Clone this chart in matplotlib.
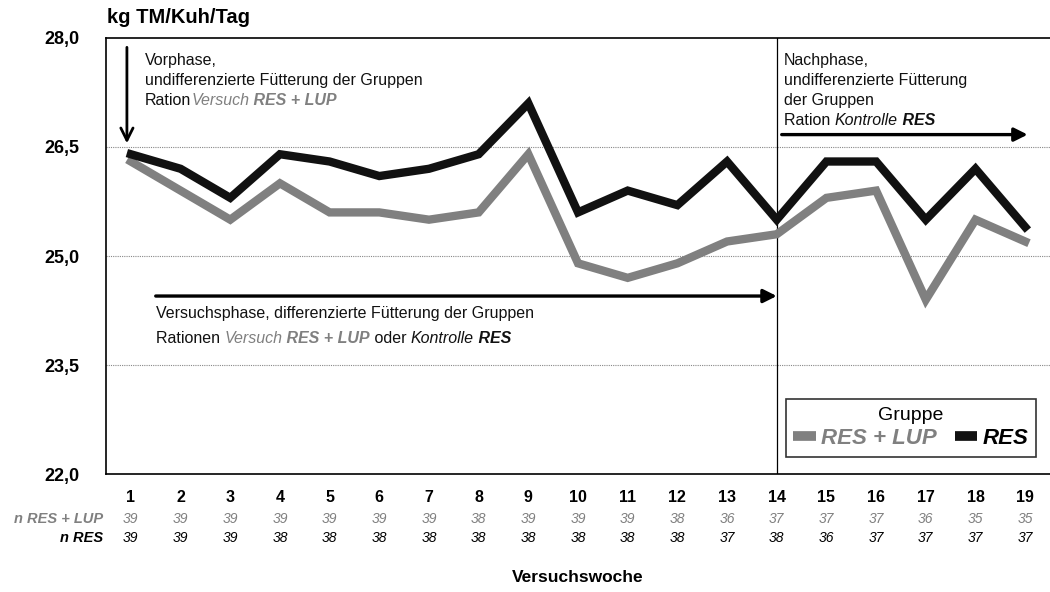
import matplotlib
matplotlib.use("Agg")
import matplotlib.pyplot as plt
from matplotlib.lines import Line2D

plt.rcParams['font.family'] = ['Liberation Sans', 'DejaVu Sans']

# Data
weeks = list(range(1, 20))
res_lup = [26.3, 25.9, 25.5, 26.0, 25.6, 25.6, 25.5, 25.6, 26.4, 24.9,
           24.7, 24.9, 25.2, 25.3, 25.8, 25.9, 24.4, 25.5, 25.2]
res = [26.4, 26.2, 25.8, 26.4, 26.3, 26.1, 26.2, 26.4, 27.1, 25.6,
       25.9, 25.7, 26.3, 25.5, 26.3, 26.3, 25.5, 26.2, 25.4]
n_res_lup = [39, 39, 39, 39, 39, 39, 39, 38, 39, 39, 39, 38, 36, 37, 37, 37, 36, 35, 35]
n_res = [39, 39, 39, 38, 38, 38, 38, 38, 38, 38, 38, 38, 37, 38, 36, 37, 37, 37, 37]
y_ticks = [22.0, 23.5, 25.0, 26.5, 28.0]
y_labels = ['22,0', '23,5', '25,0', '26,5', '28,0']

GRAY = '#808080'
BLACK = '#111111'


def rich(ax, x, y, parts, **kw):
    # draw text pieces side by side on one line, each with its own style
    prev = ax.text(x, y, parts[0][0], va='center', ha='left', **parts[0][1], **kw)
    for txt, style in parts[1:]:
        prev = ax.annotate(txt, xy=(1, 0.5), xycoords=prev, va='center', ha='left',
                           **style, **kw)
    return prev


fig = plt.figure(figsize=(10.5, 5.92), dpi=100)
ax = fig.add_axes([0.101, 0.199, 0.899, 0.737])

ax.plot(weeks, res_lup, color=GRAY, lw=6, solid_joinstyle='miter', zorder=3)
ax.plot(weeks, res, color=BLACK, lw=6, solid_joinstyle='miter', zorder=4)

ax.set_xlim(0.5, 19.5)
ax.set_ylim(22, 28)
ax.set_yticks(y_ticks)
ax.set_yticklabels(y_labels, fontsize=13, fontweight='bold')
ax.tick_params(axis='y', length=0, pad=19)
ax.set_xticks([])
for v in y_ticks[1:-1]:
    ax.axhline(v, color='#888888', lw=0.8, ls=(0, (1, 1)), zorder=1)
ax.spines['right'].set_visible(False)
for s in ['left', 'top', 'bottom']:
    ax.spines[s].set_linewidth(1.2)

ax.axvline(14, color='black', lw=0.9, zorder=2)

# bottom table
tr = ax.get_xaxis_transform()
for i, w in enumerate(weeks):
    ax.text(w, -0.053, str(w), transform=tr, ha='center', va='center',
            fontsize=11.5, fontweight='bold')
    ax.text(w, -0.103, str(n_res_lup[i]), transform=tr, ha='center', va='center',
            fontsize=10, style='italic', color=GRAY)
    ax.text(w, -0.147, str(n_res[i]), transform=tr, ha='center', va='center',
            fontsize=10, style='italic', color='black')
ax.text(-0.003, -0.103, 'n RES + LUP', transform=ax.transAxes, ha='right', va='center',
        fontsize=10.5, style='italic', fontweight='bold', color=GRAY)
ax.text(-0.003, -0.147, 'n RES', transform=ax.transAxes, ha='right', va='center',
        fontsize=10.5, style='italic', fontweight='bold', color='black')
ax.text(0.5, -0.236, 'Versuchswoche', transform=ax.transAxes, ha='center', va='center',
        fontsize=12.5, fontweight='bold')
fig.text(0.102, 0.970, 'kg TM/Kuh/Tag', ha='left', va='center', fontsize=14.5, fontweight='bold')

# arrows
ax.annotate('', xy=(0.92, 26.55), xytext=(0.92, 27.87),
            arrowprops=dict(arrowstyle='->', lw=2, color='black', mutation_scale=22,
                            shrinkA=0, shrinkB=0))
ax.annotate('', xy=(14.0, 24.45), xytext=(1.5, 24.45),
            arrowprops=dict(arrowstyle='-|>', lw=2.4, color='black', mutation_scale=20,
                            shrinkA=0, shrinkB=0))
ax.annotate('', xy=(19.05, 26.67), xytext=(14.1, 26.67),
            arrowprops=dict(arrowstyle='-|>', lw=2.4, color='black', mutation_scale=20,
                            shrinkA=0, shrinkB=0))

fs = 11.5
plain = dict(color='#111111')
gi = dict(color=GRAY, style='italic')
gbi = dict(color=GRAY, style='italic', fontweight='bold')
ki = dict(color='#111111', style='italic')
kbi = dict(color='#111111', style='italic', fontweight='bold')

ax.text(1.285, 27.69, 'Vorphase,', fontsize=fs, va='center', ha='left', **plain)
ax.text(1.285, 27.42, 'undifferenzierte Fütterung der Gruppen', fontsize=fs,
        va='center', ha='left', **plain)
rich(ax, 1.285, 27.14, [('Ration', plain), ('Versuch', gi), (' RES + LUP', gbi)], fontsize=fs)

ax.text(1.5, 24.21, 'Versuchsphase, differenzierte Fütterung der Gruppen',
        fontsize=fs, va='center', ha='left', **plain)
rich(ax, 1.5, 23.865, [('Rationen ', plain), ('Versuch', gi), (' RES + LUP', gbi),
                       (' oder ', plain), ('Kontrolle', ki), (' RES', kbi)], fontsize=fs)

for yy, line in zip([27.69, 27.42, 27.14],
                    ['Nachphase,', 'undifferenzierte Fütterung', 'der Gruppen']):
    ax.text(14.15, yy, line, fontsize=fs, va='center', ha='left', **plain)
rich(ax, 14.15, 26.865, [('Ration ', plain), ('Kontrolle', ki), (' RES', kbi)], fontsize=fs)

# legend
handles = [Line2D([], [], color=GRAY, lw=7, solid_capstyle='butt'),
           Line2D([], [], color=BLACK, lw=7, solid_capstyle='butt')]
leg = ax.legend(handles, ['RES + LUP', 'RES'], title='Gruppe', ncol=2,
                loc='lower right', bbox_to_anchor=(0.997, 0.014),
                frameon=True, fancybox=False, edgecolor='black', handlelength=1.0,
                handletextpad=0.25, columnspacing=0.8, borderpad=0.35,
                labelspacing=0.2,
                prop=dict(size=16, weight='bold', style='italic'),
                title_fontproperties=dict(size=14))
leg.get_frame().set_linewidth(1.2)
leg.get_texts()[0].set_color(GRAY)
leg.get_texts()[1].set_color('black')

fig.savefig('out.png', dpi=100)
